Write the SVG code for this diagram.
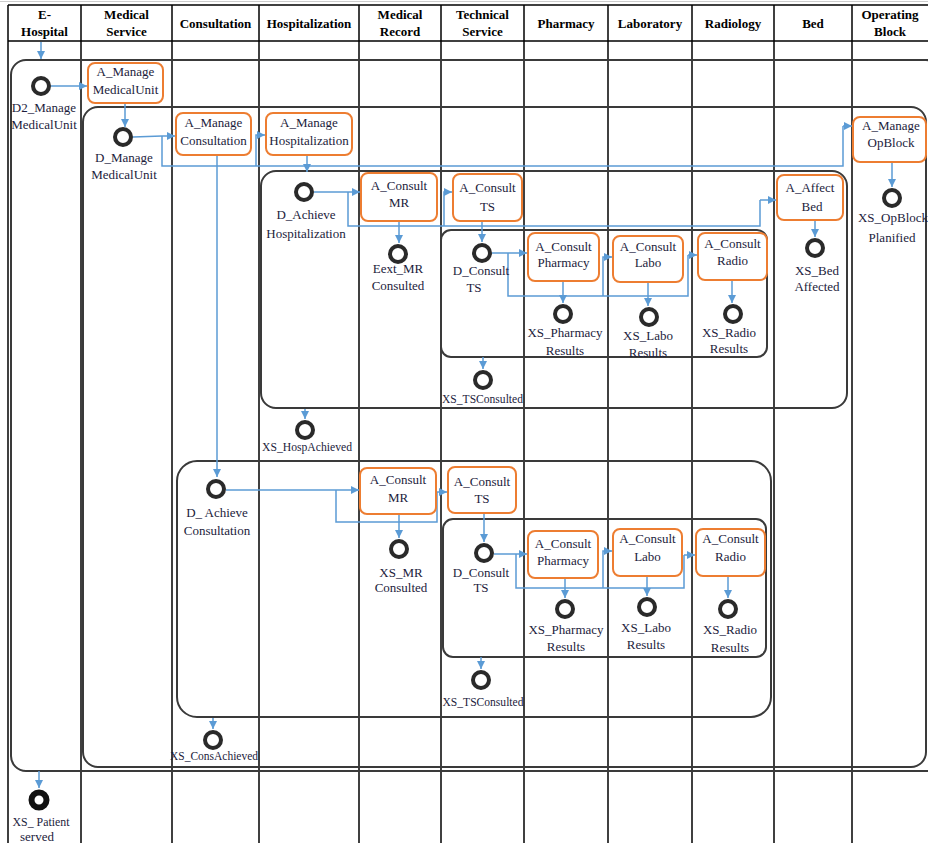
<svg xmlns="http://www.w3.org/2000/svg" width="928" height="843" viewBox="0 0 928 843">
<defs>
<style>
.lane{stroke:#000;stroke-width:1.5;fill:none}
.cont{stroke:#3a3a3a;stroke-width:2;fill:none}
.box{fill:#fff;stroke:#ED7D31;stroke-width:2}
.ev{fill:#fff;stroke:#2a2a2a;stroke-width:4}
.end{fill:#fff;stroke:#111;stroke-width:6}
.c{fill:none;stroke:#5B9BD5;stroke-width:1.5;marker-end:url(#ah)}
.cn{fill:none;stroke:#5B9BD5;stroke-width:1.5}
.h{font-weight:bold;font-size:13px;text-anchor:middle;fill:#000}
.t{font-size:13px;text-anchor:middle;fill:#1c1c3c}
</style>
<marker id="ah" viewBox="0 0 10 10" refX="10" refY="5" markerWidth="8" markerHeight="8" markerUnits="userSpaceOnUse" orient="auto"><path d="M0,0 L10,5 L0,10 z" fill="#5B9BD5"/></marker>
</defs>
<rect x="0" y="0" width="928" height="843" fill="#fff"/>
<g font-family="'Liberation Serif', 'Times New Roman', 'DejaVu Serif', serif">
<g id="lanes">
<line x1="0" y1="1.5" x2="928" y2="1.5" stroke="#ccc" stroke-width="1"/>
<line class="lane" x1="8" y1="5" x2="928" y2="5"/>
<line class="lane" x1="8" y1="41" x2="928" y2="41"/>
<line class="lane" x1="8" y1="5" x2="8" y2="843"/>
<line class="lane" x1="81" y1="5" x2="81" y2="843"/>
<line class="lane" x1="172" y1="5" x2="172" y2="843"/>
<line class="lane" x1="259" y1="5" x2="259" y2="843"/>
<line class="lane" x1="359" y1="5" x2="359" y2="843"/>
<line class="lane" x1="441" y1="5" x2="441" y2="843"/>
<line class="lane" x1="524" y1="5" x2="524" y2="843"/>
<line class="lane" x1="608" y1="5" x2="608" y2="843"/>
<line class="lane" x1="692" y1="5" x2="692" y2="843"/>
<line class="lane" x1="774" y1="5" x2="774" y2="843"/>
<line class="lane" x1="852" y1="5" x2="852" y2="843"/>
<text class="h" x="44.5" y="19">E-</text><text class="h" x="44.5" y="36">Hospital</text>
<text class="h" x="126.5" y="19">Medical</text><text class="h" x="126.5" y="36">Service</text>
<text class="h" x="215.5" y="28">Consultation</text>
<text class="h" x="309" y="28">Hospitalization</text>
<text class="h" x="400" y="19">Medical</text><text class="h" x="400" y="36">Record</text>
<text class="h" x="482.5" y="19">Technical</text><text class="h" x="482.5" y="36">Service</text>
<text class="h" x="566" y="28">Pharmacy</text>
<text class="h" x="650" y="28">Laboratory</text>
<text class="h" x="733" y="28">Radiology</text>
<text class="h" x="813" y="28">Bed</text>
<text class="h" x="890" y="19">Operating</text><text class="h" x="890" y="36">Block</text>
</g>
<g id="containers">
<rect class="cont" x="11" y="60" width="930" height="711" rx="15"/>
<rect class="cont" x="83" y="107" width="843" height="660" rx="15"/>
<rect class="cont" x="261" y="171" width="586" height="237" rx="15"/>
<rect class="cont" x="441" y="230" width="326" height="127" rx="10"/>
<rect class="cont" x="177" y="461" width="594" height="256" rx="20"/>
<rect class="cont" x="443" y="519" width="323" height="138" rx="10"/>
</g>
<g id="connectors">
<path class="c" d="M41,42 V59"/>
<path class="c" d="M51,86 H87"/>
<path class="c" d="M125,103 V127"/>
<path class="c" d="M133,137 L162,136 H175"/>
<path class="cn" d="M162,136 V166 H843 V126"/>
<path class="c" d="M843,126 H852"/>
<path class="c" d="M256,166 V135 H265"/>
<path class="c" d="M307,155 V172"/>
<path class="c" d="M217,155 V477"/>
<path class="c" d="M314,192 H360"/>
<path class="cn" d="M348,192 V226 H760 V200"/>
<path class="c" d="M760,200 H776"/>
<path class="c" d="M444,226 V192 H452"/>
<path class="c" d="M399,221 V243"/>
<path class="c" d="M482,221 V242"/>
<path class="c" d="M492,253 H527"/>
<path class="cn" d="M508,253 V296 H688 V255"/>
<path class="c" d="M688,255 H697"/>
<path class="c" d="M603,296 V257 H612"/>
<path class="c" d="M563,281 V303"/>
<path class="c" d="M648,282 V306"/>
<path class="c" d="M732,280 V303"/>
<path class="c" d="M483,357 V369"/>
<path class="c" d="M815,220 V237"/>
<path class="c" d="M892,162 V187"/>
<path class="c" d="M305,409 V419"/>
<path class="c" d="M226,490 H359"/>
<path class="cn" d="M336,490 V522 H437 V492"/>
<path class="c" d="M437,492 H447"/>
<path class="c" d="M399,514 V538"/>
<path class="c" d="M484,513 V542"/>
<path class="c" d="M494,554 H527"/>
<path class="cn" d="M516,554 V588 H684 V555"/>
<path class="c" d="M684,555 H695"/>
<path class="c" d="M603,588 V551 H612"/>
<path class="c" d="M565,578 V598"/>
<path class="c" d="M647,576 V596"/>
<path class="c" d="M728,576 V598"/>
<path class="c" d="M481,657 V669"/>
<path class="c" d="M213,718 V729"/>
<path class="c" d="M39,771 V788"/>
</g>
<g id="D2_ManageMedicalUnit"><circle class="ev" cx="41" cy="86" r="8"/><text class="t" x="44" y="112">D2_Manage</text><text class="t" x="44" y="129">MedicalUnit</text></g>
<g id="A_ManageMedicalUnit"><rect class="box" x="88" y="63" width="75" height="40" rx="7"/><text class="t" x="125.5" y="76">A_Manage</text><text class="t" x="125.5" y="94">MedicalUnit</text></g>
<g id="D_ManageMedicalUnit"><circle class="ev" cx="123" cy="137" r="8"/><text class="t" x="124" y="162">D_Manage</text><text class="t" x="124" y="179">MedicalUnit</text></g>
<g id="A_ManageConsultation"><rect class="box" x="176" y="113" width="75" height="42" rx="7"/><text class="t" x="213.5" y="127">A_Manage</text><text class="t" x="213.5" y="145">Consultation</text></g>
<g id="A_ManageHospitalization"><rect class="box" x="266" y="113" width="86" height="42" rx="7"/><text class="t" x="309" y="127">A_Manage</text><text class="t" x="309" y="145">Hospitalization</text></g>
<g id="A_ManageOpBlock"><rect class="box" x="853" y="117" width="73" height="45" rx="7"/><text class="t" x="891" y="130">A_Manage</text><text class="t" x="891" y="147">OpBlock</text></g>
<g id="XS_OpBlockPlanified"><circle class="ev" cx="892" cy="198" r="8"/><text class="t" x="893" y="222">XS_OpBlock</text><text class="t" x="892" y="242">Planified</text></g>
<g id="D_AchieveHospitalization"><circle class="ev" cx="304" cy="192" r="8"/><text class="t" x="306" y="219">D_Achieve</text><text class="t" x="306" y="238">Hospitalization</text></g>
<g id="A_ConsultMR_H"><rect class="box" x="361" y="173" width="76" height="48" rx="7"/><text class="t" x="399" y="190">A_Consult</text><text class="t" x="399" y="207">MR</text></g>
<g id="Eext_MRConsulted"><circle class="ev" cx="398" cy="254" r="8"/><text class="t" x="398" y="273">Eext_MR</text><text class="t" x="398" y="290">Consulted</text></g>
<g id="A_ConsultTS_H"><rect class="box" x="453" y="174" width="69" height="47" rx="7"/><text class="t" x="487.5" y="192">A_Consult</text><text class="t" x="487.5" y="211">TS</text></g>
<g id="D_ConsultTS_H"><circle class="ev" cx="482" cy="253" r="8"/><text class="t" x="481" y="275">D_Consult</text><text class="t" x="474" y="292">TS</text></g>
<g id="A_ConsultPharmacy_H"><rect class="box" x="528" y="233" width="71" height="48" rx="7"/><text class="t" x="563.5" y="251">A_Consult</text><text class="t" x="563.5" y="267">Pharmacy</text></g>
<g id="A_ConsultLabo_H"><rect class="box" x="613" y="236" width="70" height="46" rx="7"/><text class="t" x="648" y="251">A_Consult</text><text class="t" x="648" y="267">Labo</text></g>
<g id="A_ConsultRadio_H"><rect class="box" x="698" y="233" width="69" height="47" rx="7"/><text class="t" x="732.5" y="248">A_Consult</text><text class="t" x="732.5" y="265">Radio</text></g>
<g id="XS_PharmacyResults_H"><circle class="ev" cx="563" cy="314" r="8"/><text class="t" x="565" y="337">XS_Pharmacy</text><text class="t" x="565" y="355">Results</text></g>
<g id="XS_LaboResults_H"><circle class="ev" cx="649" cy="317" r="8"/><text class="t" x="648" y="340">XS_Labo</text><text class="t" x="648" y="357">Results</text></g>
<g id="XS_RadioResults_H"><circle class="ev" cx="733" cy="314" r="8"/><text class="t" x="729" y="337">XS_Radio</text><text class="t" x="729" y="353">Results</text></g>
<g id="XS_TSConsulted_H"><circle class="ev" cx="483" cy="380" r="8"/><text class="t" x="482.5" y="403" textLength="81" lengthAdjust="spacingAndGlyphs">XS_TSConsulted</text></g>
<g id="A_AffectBed"><rect class="box" x="777" y="175" width="66" height="45" rx="7"/><text class="t" x="810" y="192">A_Affect</text><text class="t" x="812" y="211">Bed</text></g>
<g id="XS_BedAffected"><circle class="ev" cx="815" cy="248" r="8"/><text class="t" x="817" y="275">XS_Bed</text><text class="t" x="817" y="291">Affected</text></g>
<g id="XS_HospAchieved"><circle class="ev" cx="305" cy="430" r="8"/><text class="t" x="307" y="451" textLength="90" lengthAdjust="spacingAndGlyphs">XS_HospAchieved</text></g>
<g id="D_AchieveConsultation"><circle class="ev" cx="216" cy="489" r="8"/><text class="t" x="217" y="517">D_ Achieve</text><text class="t" x="217" y="535">Consultation</text></g>
<g id="A_ConsultMR_C"><rect class="box" x="360" y="468" width="76" height="46" rx="7"/><text class="t" x="398" y="484">A_Consult</text><text class="t" x="398" y="502">MR</text></g>
<g id="XS_MRConsulted"><circle class="ev" cx="399" cy="549" r="8"/><text class="t" x="401" y="577">XS_MR</text><text class="t" x="401" y="592">Consulted</text></g>
<g id="A_ConsultTS_C"><rect class="box" x="448" y="467" width="68" height="46" rx="7"/><text class="t" x="482" y="486">A_Consult</text><text class="t" x="482" y="503">TS</text></g>
<g id="D_ConsultTS_C"><circle class="ev" cx="484" cy="553" r="8"/><text class="t" x="481" y="577">D_Consult</text><text class="t" x="481" y="592">TS</text></g>
<g id="A_ConsultPharmacy_C"><rect class="box" x="528" y="531" width="70" height="47" rx="7"/><text class="t" x="563" y="548">A_Consult</text><text class="t" x="563" y="565">Pharmacy</text></g>
<g id="A_ConsultLabo_C"><rect class="box" x="613" y="529" width="69" height="47" rx="7"/><text class="t" x="647.5" y="543">A_Consult</text><text class="t" x="647.5" y="561">Labo</text></g>
<g id="A_ConsultRadio_C"><rect class="box" x="696" y="529" width="69" height="47" rx="7"/><text class="t" x="730.5" y="543">A_Consult</text><text class="t" x="730.5" y="561">Radio</text></g>
<g id="XS_PharmacyResults_C"><circle class="ev" cx="565" cy="609" r="8"/><text class="t" x="566" y="634">XS_Pharmacy</text><text class="t" x="566" y="651">Results</text></g>
<g id="XS_LaboResults_C"><circle class="ev" cx="647" cy="607" r="8"/><text class="t" x="646" y="632">XS_Labo</text><text class="t" x="646" y="649">Results</text></g>
<g id="XS_RadioResults_C"><circle class="ev" cx="728" cy="609" r="8"/><text class="t" x="730" y="634">XS_Radio</text><text class="t" x="730" y="652">Results</text></g>
<g id="XS_TSConsulted_C"><circle class="ev" cx="481" cy="680" r="8"/><text class="t" x="483" y="706" textLength="81" lengthAdjust="spacingAndGlyphs">XS_TSConsulted</text></g>
<g id="XS_ConsAchieved"><circle class="ev" cx="213" cy="740" r="8"/><text class="t" x="214" y="760" textLength="88" lengthAdjust="spacingAndGlyphs">XS_ConsAchieved</text></g>
<g id="XS_Patientserved"><circle class="end" cx="39" cy="800" r="7.5"/><text class="t" x="41" y="826" textLength="57" lengthAdjust="spacingAndGlyphs">XS_ Patient</text><text class="t" x="37" y="841">served</text></g>
</g>
</svg>
